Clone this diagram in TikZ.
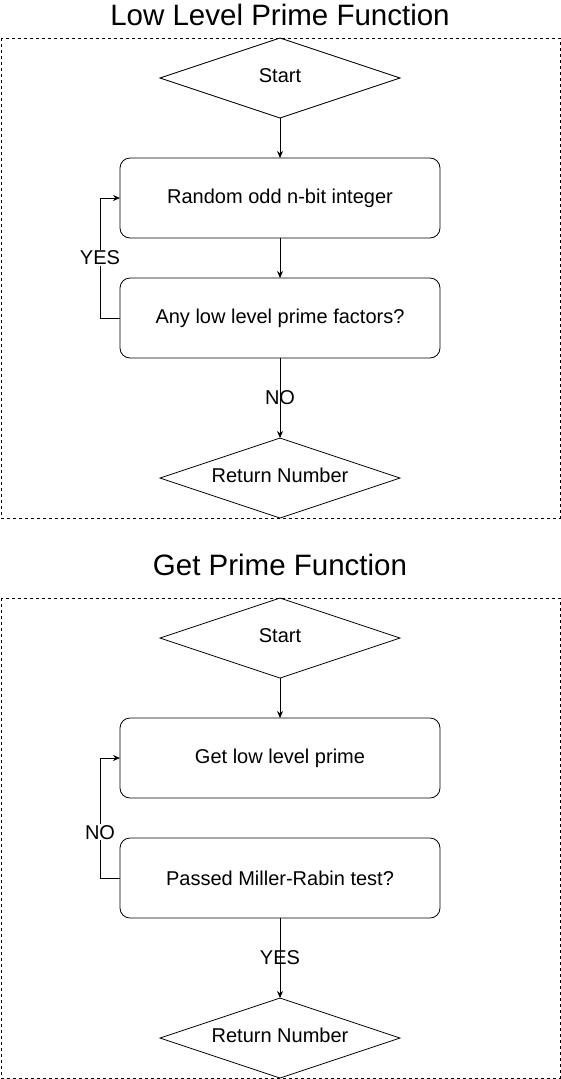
\documentclass[tikz,border=0pt]{standalone}
\usepackage{fontspec}
\setmainfont{Liberation Sans}
\usetikzlibrary{positioning}
\usetikzlibrary{shapes.geometric}
\usetikzlibrary{arrows.meta}

\begin{document}
\begin{tikzpicture}[
        x = 1pt, y = -1pt,
        decision/.style = {
            draw,
            diamond,
            aspect = 3,
            minimum width = 240pt,
            minimum height = 80pt,
            inner sep = 0pt,
            outer sep = 0pt,
            text depth = 5pt,
            font = \fontsize{20}{23}\selectfont
        },
        process/.style = {
            draw,
            rectangle,
            rounded corners = 10pt,
            minimum width = 320pt,
            minimum height = 80pt,
            outer sep = 0pt,
            font = \fontsize{20}{23}\selectfont
        },
        tag/.style = {
            inner sep = 1pt,
            font = \fontsize{20}{23}\selectfont
        },
        gap/.style = {tag, fill = white},
        frame/.style = {draw, dash pattern = on 3pt off 3pt},
        title/.style = {font = \fontsize{29.5}{32}\selectfont},
        flow/.style = {-{Stealth[length = 7pt, width = 6pt]}},
        line width = 0.8pt,
        node distance = {40pt}
    ]
    \useasboundingbox (0,0) rectangle (561,1079);
    \draw[frame] (1,38) rectangle (560,518);
    \draw[frame] (1,598) rectangle (560,1078);
    {\node[title] (lowtitle) at (280,15) {Low Level Prime Function};}
    {\node[decision] (lowstart) at (280,78) {Start};}
    {\node[process, below=of lowstart] (random) {Random odd n-bit integer};}
    {\node[process, below=of random] (factors) {Any low level prime factors?};}
    {\node[decision, below=80pt of factors] (lowreturn) {Return Number};}
    \draw[flow] (lowstart) -- (random);
    \draw[flow] (random) -- (factors);
    \draw[flow] (factors) -- node[tag]{NO} (lowreturn);
    \draw[flow] (factors.west) -- ++(-20,0) |- node[gap, pos=0.25]{YES} (random.west);
    {\node[title] (gettitle) at (280,565) {Get Prime Function};}
    {\node[decision] (getstart) at (280,638) {Start};}
    {\node[process, below=of getstart] (lowprime) {Get low level prime};}
    {\node[process, below=of lowprime] (miller) {Passed Miller-Rabin test?};}
    {\node[decision, below=80pt of miller] (getreturn) {Return Number};}
    \draw[flow] (getstart) -- (lowprime);
    \draw[flow] (miller) -- node[tag]{YES} (getreturn);
    \draw[flow] (miller.west) -- ++(-20,0) |- node[gap, pos=0.19]{NO} (lowprime.west);
\end{tikzpicture}
\end{document}
